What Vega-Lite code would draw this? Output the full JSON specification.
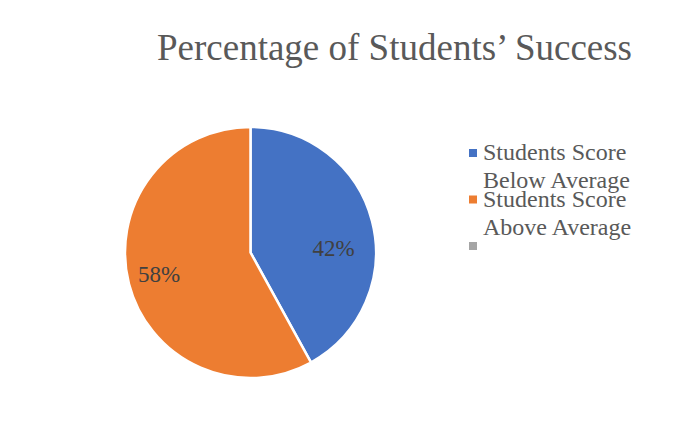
{
  "$schema": "https://vega.github.io/schema/vega-lite/v6.json",
  "autosize": "none",
  "width": 251,
  "height": 251,
  "padding": {"left": 125, "top": 127, "right": 311, "bottom": 48},
  "background": "white",
  "title": {
    "text": "Percentage of Students’ Success",
    "font": "Liberation Serif, Times New Roman, serif",
    "fontSize": 37,
    "fontWeight": "normal",
    "color": "#595959",
    "anchor": "middle",
    "baseline": "alphabetic",
    "dx": 144,
    "offset": 25
  },
  "data": {
    "values": [
      {"category": "Students Score Below Average", "value": 42, "label": "42%"},
      {"category": "Students Score Above Average", "value": 58, "label": "58%"}
    ]
  },
  "encoding": {
    "theta": {"field": "value", "type": "quantitative", "stack": true},
    "order": {"field": "value", "type": "quantitative", "sort": "ascending"}
  },
  "layer": [
    {
      "mark": {"type": "arc", "strokeWidth": 2.5},
      "encoding": {
        "color": {
          "field": "category",
          "type": "nominal",
          "scale": {
            "domain": ["Students Score Below Average", "Students Score Above Average", " "],
            "range": ["#4472C4", "#ED7D31", "#A5A5A5"]
          },
          "legend": {
            "orient": "none",
            "legendX": 336,
            "legendY": 14,
            "title": null,
            "symbolType": "square",
            "symbolSize": 64,
            "symbolStrokeWidth": 0,
            "symbolOpacity": 1,
            "labelFont": "Liberation Serif, Times New Roman, serif",
            "labelFontSize": 24,
            "labelColor": "#595959",
            "labelOffset": -2,
            "labelBaseline": "middle",
            "labelLimit": 300,
            "padding": 0,
            "rowPadding": 22.5,
            "labelExpr": "length(datum.label) > 14 ? slice(datum.label, 0, 14) : ''"
          }
        },
        "stroke": {
          "field": "category",
          "type": "nominal",
          "scale": {
            "domain": ["Students Score Below Average", "Students Score Above Average", "  "],
            "range": ["white", "white", "white"]
          },
          "legend": {
            "orient": "none",
            "legendX": 336,
            "legendY": 42,
            "title": null,
            "symbolType": "square",
            "symbolSize": 64,
            "symbolStrokeWidth": 0,
            "symbolOpacity": 0,
            "symbolFillColor": "white",
            "labelFont": "Liberation Serif, Times New Roman, serif",
            "labelFontSize": 24,
            "labelColor": "#595959",
            "labelOffset": -2,
            "labelBaseline": "middle",
            "labelLimit": 300,
            "padding": 0,
            "rowPadding": 22.5,
            "labelExpr": "length(datum.label) > 14 ? slice(datum.label, 15) : ''"
          }
        }
      }
    },
    {
      "mark": {
        "type": "text",
        "radius": 94.5,
        "font": "Liberation Serif, Times New Roman, serif",
        "fontSize": 23,
        "color": "#404040",
        "dx": {"expr": "datum.value < 50 ? -8.5 : 0"},
        "dy": {"expr": "datum.value < 50 ? 20 : -1"}
      },
      "encoding": {
        "text": {"field": "label"}
      }
    }
  ],
  "config": {
    "view": {"stroke": null}
  }
}
